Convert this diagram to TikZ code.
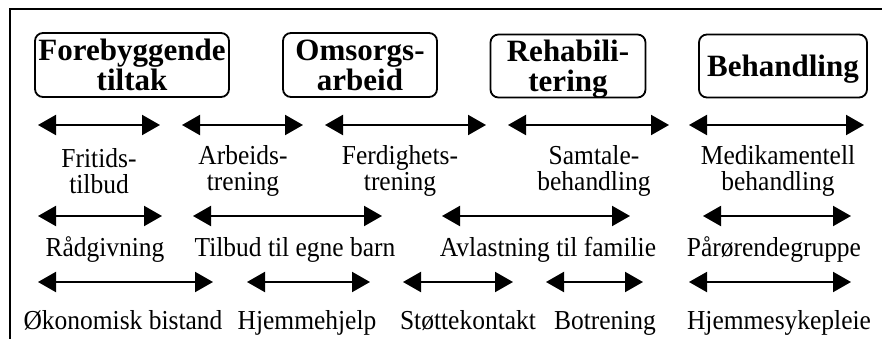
\documentclass[tikz,border=0pt]{standalone}
\usepackage{fontspec}
\setmainfont{Liberation Serif}
\newfontfamily\lblfont[FakeStretch=0.93]{Liberation Serif}
\usetikzlibrary{arrows.meta}
\begin{document}
\begin{tikzpicture}[x=1pt,y=-1pt,
  frame/.style={line width=2pt},
  catbox/.style={draw,line width=1.8pt,rounded corners=8pt,inner sep=0pt,align=center,
     text depth=0pt,font=\fontsize{31}{30}\selectfont\bfseries},
  dbl/.style={line width=2pt,{Triangle[length=18pt,width=20pt]}-{Triangle[length=18pt,width=20pt]}},
  lbl/.style={font=\lblfont\fontsize{27.4}{26.5}\selectfont,align=center,inner sep=0pt},
  lbase/.style={lbl,anchor=base}]
\useasboundingbox (0,0) rectangle (882,339);
% frame
\coordinate (fa) at (10,339);
\coordinate (fb) at (10,9);
\coordinate (fc) at (883,9);
\draw[frame] (fa) -- (fb) -- (fc);
% category boxes
\node[catbox,minimum width=194,minimum height=64] (b1) at (132,65) {Forebyggende\\tiltak};
\node[catbox,minimum width=154,minimum height=64] (b2) at (360,65) {Omsorgs-\\arbeid};
\node[catbox,minimum width=155,minimum height=63] (b3) at (568,66) {Rehabili-\\tering};
\node[catbox,minimum width=168,minimum height=63] (b4) at (783,66) {Behandling};
% row 1 arrows
\foreach \n/\l/\r in {a1/38/160,a2/182/303,a3/325/486,a4/508/669,a5/689/864}{
  \coordinate (\n l) at (\l,125); \coordinate (\n r) at (\r,125);
  \draw[dbl] (\n l) -- (\n r);}
% row 2 arrows
\foreach \n/\l/\r in {c1/38/162,c2/193/382,c3/442/630,c4/703/851}{
  \coordinate (\n l) at (\l,216); \coordinate (\n r) at (\r,216);
  \draw[dbl] (\n l) -- (\n r);}
% row 3 arrows
\foreach \n/\l/\r in {e1/38/213,e2/247/370,e3/403/513,e4/546/643,e5/689/851}{
  \coordinate (\n l) at (\l,282); \coordinate (\n r) at (\r,282);
  \draw[dbl] (\n l) -- (\n r);}
% row 1 labels
\node[lbl] (t1) at (99,171) {Fritids-\\tilbud};
\node[lbl] (t2) at (243,171) {Arbeids-\\trening};
\node[lbl] (t3) at (400,171) {Ferdighets-\\trening};
\node[lbl] (t4) at (594,171) {Samtale-\\behandling};
\node[lbl] (t5) at (778,171) {Medikamentell\\behandling};
% row 2 labels
\node[lbase] (u1) at (105,256) {Rådgivning};
\node[lbase] (u2) at (295,256) {Tilbud til egne barn};
\node[lbase] (u3) at (548,256) {Avlastning til familie};
\node[lbase] (u4) at (774,256) {Pårørendegruppe};
% row 3 labels
\node[lbase] (v1) at (123,329) {Økonomisk bistand};
\node[lbase] (v2) at (307,329) {Hjemmehjelp};
\node[lbase] (v3) at (468,329) {Støttekontakt};
\node[lbase] (v4) at (605,329) {Botrening};
\node[lbase] (v5) at (779,329) {Hjemmesykepleie};
\end{tikzpicture}
\end{document}
